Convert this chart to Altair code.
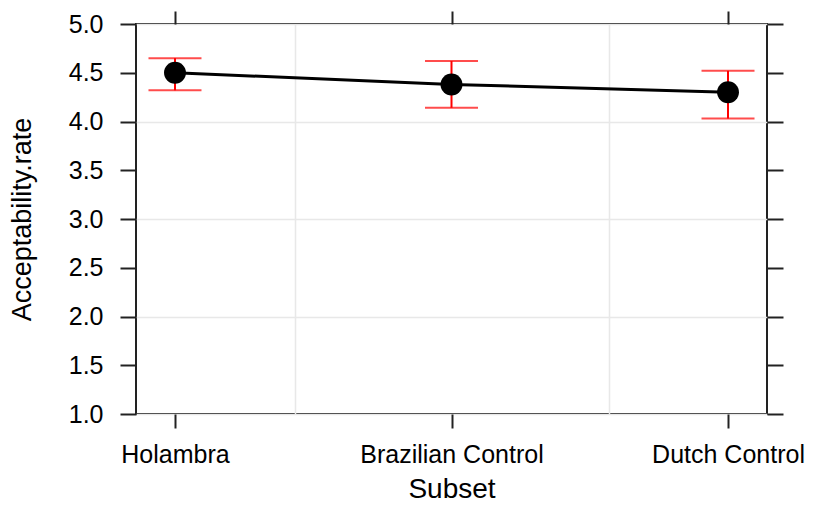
import altair as alt
import pandas as pd

subsets = ["Holambra", "Brazilian Control", "Dutch Control"]
fit = [4.50, 4.38, 4.30]
lower = [4.32, 4.14, 4.03]
upper = [4.65, 4.62, 4.52]

df = pd.DataFrame({
    "idx": list(range(1, len(subsets) + 1)),
    "Subset": subsets,
    "fit": fit,
    "lower": lower,
    "upper": upper,
})

FONT = "Liberation Sans"
xdom = [0.859, 3.141]
ydom = [1.0, 5.0]
yticks = [1.0 + 0.5 * i for i in range(9)]
label_expr = " : ".join(
    [f"datum.value == {i + 1} ? '{s}'" for i, s in enumerate(subsets)]
) + " : ''"

xs = alt.Scale(domain=xdom, nice=False, zero=False)
ys = alt.Scale(domain=ydom, nice=False, zero=False)

base = alt.Chart(df)

stems = base.mark_rule(color="#ff0000", strokeWidth=2).encode(
    x=alt.X("idx:Q", scale=xs,
            axis=alt.Axis(orient="bottom", values=[1.435, 2.57], grid=True,
                          gridColor="#e8e8e8", gridWidth=1.5, ticks=False,
                          labels=False, domain=False, title=None, zindex=0)),
    y=alt.Y("lower:Q", scale=ys,
            axis=alt.Axis(orient="left", values=[1, 2, 3, 4, 5], grid=True,
                          gridColor="#e8e8e8", gridWidth=1.5, ticks=False,
                          labels=False, domain=False, title=None, zindex=0)),
    y2="upper:Q",
)

caps_lo = base.mark_tick(color="#ff0000", orient="horizontal", size=53, thickness=2).encode(
    x=alt.X("idx:Q", scale=xs,
            axis=alt.Axis(orient="top", values=[1, 2, 3], grid=False, ticks=True,
                          tickSize=13, tickWidth=2, tickColor="#222",
                          labels=False, domain=False, title=None)),
    y=alt.Y("lower:Q", scale=ys,
            axis=alt.Axis(orient="right", values=yticks, grid=False, ticks=True,
                          tickSize=16, tickWidth=2, tickColor="#222",
                          labels=False, domain=False, title=None)),
)
caps_hi = base.mark_tick(color="#ff0000", orient="horizontal", size=53, thickness=2).encode(
    x=alt.X("idx:Q", scale=xs, axis=None),
    y=alt.Y("upper:Q", scale=ys, axis=None),
)

line = base.mark_line(color="black", strokeWidth=3).encode(
    x=alt.X("idx:Q", scale=xs,
            axis=alt.Axis(orient="bottom", values=[1, 2, 3], grid=False,
                          ticks=True, tickSize=14, tickWidth=2, tickColor="#222",
                          labelExpr=label_expr, labelFont=FONT, labelFontSize=25,
                          labelColor="black", labelBaseline="alphabetic",
                          labelPadding=34, labelFlush=False, labelOverlap=False,
                          labelLimit=0,
                          domain=False, title="Subset", titleFont=FONT,
                          titleFontSize=28, titleFontWeight="normal",
                          titleColor="black", titleBaseline="alphabetic",
                          titleY=83)),
    y=alt.Y("fit:Q", scale=ys,
            axis=alt.Axis(orient="left", values=yticks, grid=False, ticks=True,
                          tickSize=16, tickWidth=2, tickColor="#222",
                          format=".1f", labelFont=FONT, labelFontSize=25,
                          labelColor="black", labelPadding=17,
                          labelBaseline="middle", labelFlush=False,
                          labelOverlap=False, domain=False,
                          title="Acceptability.rate", titleFont=FONT,
                          titleFontSize=27, titleFontWeight="normal",
                          titleColor="black", titleBaseline="alphabetic",
                          titleX=-106, titleY=195)),
)

points = base.mark_point(filled=True, color="black", opacity=1, size=480,
                         shape="circle").encode(
    x=alt.X("idx:Q", scale=xs, axis=None),
    y=alt.Y("fit:Q", scale=ys, axis=None),
)

chart = alt.layer(stems, caps_lo, caps_hi, line, points).resolve_axis(
    x="independent", y="independent"
).properties(
    width=631,
    height=390,
    autosize=alt.AutoSizeParams(type="none"),
    padding={"left": 128, "top": 16, "right": 39, "bottom": 89},
    background="white",
).configure_view(
    stroke="#222", strokeWidth=2
)

chart.save("out.html", embed_options={"renderer": "svg", "actions": False})
